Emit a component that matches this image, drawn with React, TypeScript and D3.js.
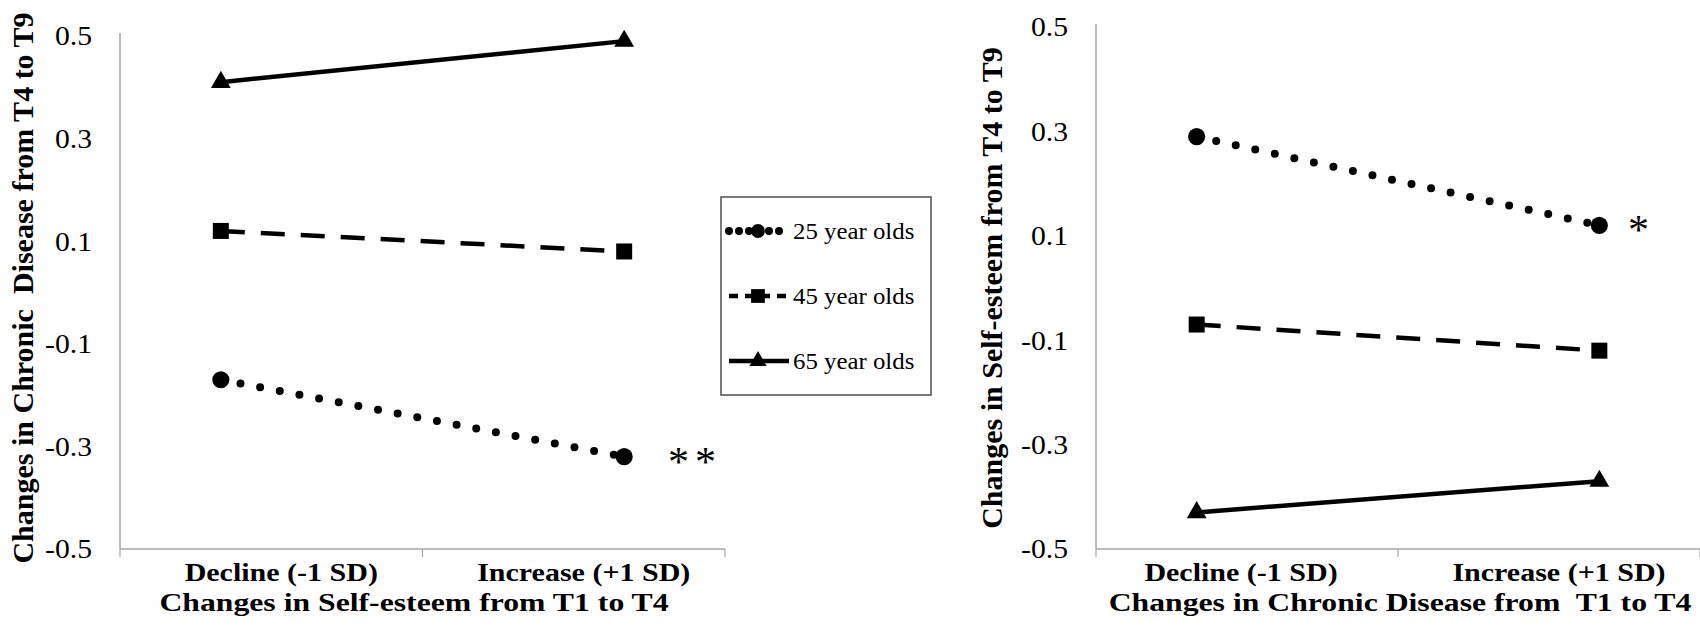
import React from 'react';
import * as d3 from 'd3';

// categories on the x axis, age groups in the legend
const categories = ['Decline (-1 SD)', 'Increase (+1 SD)'];
const groups = ['25 year olds', '45 year olds', '65 year olds'];
const yTicks = [0.5, 0.3, 0.1, -0.1, -0.3, -0.5];

// left panel: chronic disease change by self-esteem change
const leftAge25 = [-0.17, -0.32];
const leftAge45 = [0.12, 0.08];
const leftAge65 = [0.41, 0.49];

// right panel: self-esteem change by chronic disease change
const rightAge25 = [0.29, 0.12];
const rightAge45 = [-0.07, -0.12];
const rightAge65 = [-0.43, -0.37];

const FONT = '"Liberation Serif", "Times New Roman", serif';

const styles = [
  { dash: '0,20', width: 8, cap: 'round', symbol: d3.symbolCircle, size: 230 },
  { dash: '24,16', width: 4.5, cap: 'butt', symbol: d3.symbolSquare, size: 256 },
  { dash: null, width: 4.5, cap: 'butt', symbol: d3.symbolTriangle, size: 170 },
];

// the source image is a bit wider than tall, so text is stretched sideways
const SText: React.FC<{ x: number; y: number; sx?: number; size: number; bold?: boolean; anchor?: string; dy?: string; children: React.ReactNode }> =
  ({ x, y, sx = 1.2, size, bold, anchor = 'start', dy, children }) => (
    <text transform={`translate(${x},${y}) scale(${sx},1)`} textAnchor={anchor} dy={dy}
      fontFamily={FONT} fontSize={size} fontWeight={bold ? 'bold' : 'normal'} fill="#000"
      style={{ whiteSpace: 'pre' }}>{children}</text>
  );

interface PanelProps {
  x0: number;
  x1: number;
  yTop: number;
  yBottom: number;
  series: number[][];
  yTitle: string;
  yTitleX: number;
  xTitle: string;
  xTitleX: number;
  catShift: number[];
  star: string;
  starX: number;
}

const Panel: React.FC<PanelProps> = ({ x0, x1, yTop, yBottom, series, yTitle, yTitleX, xTitle, xTitleX, catShift, star, starX }) => {
  const y = d3.scaleLinear().domain([-0.5, 0.5]).range([yBottom, yTop]);
  const band = d3.scaleBand().domain(categories).range([x0, x1]);
  const pt = d3.scalePoint().domain(categories).range([x0, x1]).padding(0.25);
  const line = d3.line<number>()
    .x((_, i) => pt(categories[i]) as number)
    .y(d => y(d));
  const tickXs = [x0, x0 + band.bandwidth(), x1];

  return (
    <g>
      <line x1={x0} x2={x0} y1={yTop - 3} y2={yBottom} stroke="#8c8c8c" strokeWidth={1.2} />
      <line x1={x0} x2={x1} y1={yBottom} y2={yBottom} stroke="#a6a6a6" strokeWidth={1.6} />
      {tickXs.map((t, i) => (
        <line key={i} x1={t} x2={t} y1={yBottom} y2={yBottom + 8} stroke="#a6a6a6" strokeWidth={1.2} />
      ))}
      {yTicks.map(t => (
        <SText key={t} x={x0 - 28} y={y(t)} dy="0.35em" anchor="end" size={27} sx={1.1}>{t.toFixed(1)}</SText>
      ))}
      {categories.map((c, i) => (
        <SText key={c} x={(band(c) as number) + band.bandwidth() / 2 + catShift[i]} y={581}
          anchor="middle" size={25} bold sx={1.2}>{c}</SText>
      ))}
      <SText x={xTitleX} y={611} anchor="middle" size={26} bold sx={1.22}>{xTitle}</SText>
      <text transform={`translate(${yTitleX},288) rotate(-90)`} textAnchor="middle"
        fontFamily={FONT} fontSize={30} fontWeight="bold" fill="#000"
        style={{ whiteSpace: 'pre' }}>{yTitle}</text>
      {series.map((vals, si) => (
        <g key={si}>
          <path d={line(vals) || ''} fill="none" stroke="#000" strokeWidth={styles[si].width}
            strokeDasharray={styles[si].dash || undefined} strokeLinecap={styles[si].cap as any} />
          {vals.map((v, i) => (
            <path key={i} d={d3.symbol(styles[si].symbol, styles[si].size)() || ''}
              transform={`translate(${pt(categories[i])},${y(v)})`} fill="#000" />
          ))}
        </g>
      ))}
      <text x={starX} y={y(series[0][1]) + 19} fontFamily={FONT} fontSize={42}
        letterSpacing={6} fill="#000">{star}</text>
    </g>
  );
};

const Legend: React.FC = () => {
  const rows = [231, 296, 361];
  return (
    <g>
      <rect x={721} y={197} width={210} height={198} fill="#fff" stroke="#595959" strokeWidth={1.6} />
      {groups.map((g, i) => (
        <g key={g}>
          <line x1={729} x2={789} y1={rows[i]} y2={rows[i]} stroke="#000" strokeWidth={styles[i].width}
            strokeDasharray={i === 0 ? '0,10' : i === 1 ? '9,7' : undefined}
            strokeLinecap={styles[i].cap as any} />
          <path d={d3.symbol(styles[i].symbol, i === 0 ? 150 : i === 1 ? 190 : 130)() || ''}
            transform={`translate(758,${rows[i]})`} fill="#000" />
          <SText x={793} y={rows[i]} dy="0.35em" size={23} sx={1.08}>{g}</SText>
        </g>
      ))}
    </g>
  );
};

export default function App() {
  return (
    <div style={{ position: 'absolute', left: 0, top: 0 }}>
      <svg width={1700} height={627} style={{ display: 'block', background: '#fff' }}>
        <Panel x0={120} x1={725} yTop={36} yBottom={549}
          series={[leftAge25, leftAge45, leftAge65]}
          yTitle="Changes in Chronic  Disease from T4 to T9" yTitleX={33}
          xTitle="Changes in Self-esteem from T1 to T4" xTitleX={414}
          catShift={[10, 10]} star="**" starX={668} />
        <Panel x0={1096} x1={1700} yTop={27} yBottom={549}
          series={[rightAge25, rightAge45, rightAge65]}
          yTitle="Changes in Self-esteem from T4 to T9" yTitleX={1002}
          xTitle="Changes in Chronic Disease from  T1 to T4" xTitleX={1400}
          catShift={[-6, 10]} star="*" starX={1628} />
        <Legend />
      </svg>
    </div>
  );
}
